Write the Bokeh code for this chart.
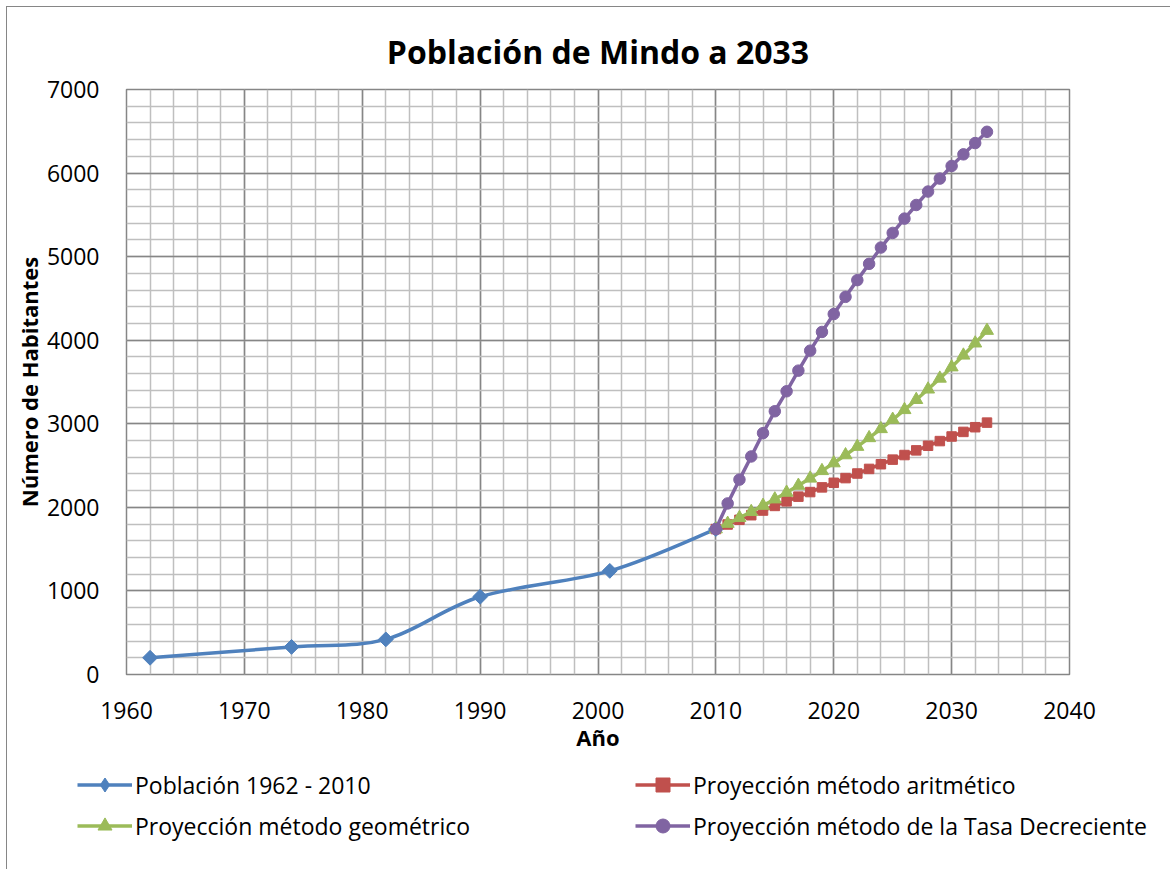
import numpy as np
from bokeh.plotting import figure
from bokeh.layouts import column
from bokeh.models import Range1d, SingleIntervalTicker, Legend, LegendItem
from bokeh.embed import file_html
from bokeh.resources import INLINE

# ---- data ----
hist_years = [1962, 1974, 1982, 1990, 2001, 2010]
hist_pop = [200, 330, 420, 930, 1240, 1740]

proj_years = [2010, 2011, 2012, 2013, 2014, 2015, 2016, 2017, 2018, 2019, 2020, 2021,
              2022, 2023, 2024, 2025, 2026, 2027, 2028, 2029, 2030, 2031, 2032, 2033]
arit = [1740, 1795, 1851, 1906, 1962, 2017, 2072, 2128, 2183, 2239, 2294, 2350,
        2405, 2460, 2516, 2571, 2626, 2682, 2737, 2793, 2848, 2903, 2959, 3014]
geom = [1740, 1806, 1875, 1947, 2021, 2098, 2178, 2261, 2347, 2437, 2530, 2626,
        2727, 2831, 2939, 3051, 3167, 3288, 3413, 3543, 3678, 3819, 3964, 4115]
tasa = [1740, 2047, 2332, 2609, 2888, 3150, 3389, 3636, 3875, 4099, 4313, 4519,
        4719, 4914, 5109, 5284, 5455, 5618, 5779, 5934, 6085, 6224, 6359, 6494]

labels = ["Población 1962 - 2010", "Proyección método aritmético",
          "Proyección método geométrico", "Proyección método de la Tasa Decreciente"]
title_text = "Población de Mindo a 2033"
x_title = "Año"
y_title = "Número de Habitantes"

BLUE, RED, GREEN, PURPLE = "#4F81BD", "#C0504D", "#9BBB59", "#8064A2"
FONT = "Open Sans"
LW = 3.5
W = 1163

# ---------------- main chart ----------------
p = figure(width=W, height=753, output_backend="svg", toolbar_location=None,
           x_range=Range1d(1960, 2040), y_range=Range1d(0, 7000),
           min_border_left=119, min_border_right=101, min_border_top=82,
           min_border_bottom=86, background_fill_color="white",
           border_fill_color="white")

p.title.text = title_text
p.title.align = "center"
p.title.text_font = FONT
p.title.text_font_size = "32px"
p.title.text_font_style = "bold"
p.title.text_color = "black"
p.title.standoff = 33

p.outline_line_color = "#868686"
p.outline_line_width = 1.5

p.xaxis.ticker = SingleIntervalTicker(interval=10, num_minor_ticks=5)
p.yaxis.ticker = SingleIntervalTicker(interval=1000, num_minor_ticks=5)

for ax in (p.xaxis, p.yaxis):
    ax.axis_line_color = None
    ax.major_tick_line_color = None
    ax.minor_tick_line_color = None
    ax.major_label_text_font = FONT
    ax.major_label_text_font_size = "23px"
    ax.major_label_text_color = "black"
    ax.axis_label_text_font = FONT
    ax.axis_label_text_font_size = "22px"
    ax.axis_label_text_font_style = "bold"
    ax.axis_label_text_color = "black"

p.xaxis.axis_label = x_title
p.yaxis.axis_label = y_title
p.xaxis.major_label_standoff = 21
p.xaxis.axis_label_standoff = 0
p.yaxis.major_label_standoff = 21
p.yaxis.axis_label_standoff = 0

for g in (p.xgrid, p.ygrid):
    g.grid_line_color = "#868686"
    g.grid_line_width = 1.5
    g.minor_grid_line_color = "#BFBFBF"
    g.minor_grid_line_width = 1.5

# smoothed historical line (Catmull-Rom style Bezier built from the data)
hx = np.array(hist_years, dtype=float)
hy = np.array(hist_pop, dtype=float)
n = len(hx)
prev_idx = np.array([max(i - 1, 0) for i in range(n - 1)])
next_idx = np.array([min(i + 2, n - 1) for i in range(n - 1)])
i0 = np.arange(n - 1)
i1 = i0 + 1
cx0 = hx[i0] + (hx[i1] - hx[prev_idx]) / 6.0
cy0 = hy[i0] + (hy[i1] - hy[prev_idx]) / 6.0
cx1 = hx[i1] - (hx[next_idx] - hx[i0]) / 6.0
cy1 = hy[i1] - (hy[next_idx] - hy[i0]) / 6.0

p.bezier(x0=hx[i0], y0=hy[i0], x1=hx[i1], y1=hy[i1],
         cx0=cx0, cy0=cy0, cx1=cx1, cy1=cy1, line_color=BLUE, line_width=LW)
p.scatter(hist_years, hist_pop, marker="square", angle=np.pi / 4,
          size=10.5, fill_color=BLUE, line_color=BLUE)

p.line(proj_years, arit, line_color=RED, line_width=LW)
p.scatter(proj_years, arit, marker="square", size=9.5, fill_color=RED, line_color=RED)

p.line(proj_years, geom, line_color=GREEN, line_width=LW)
p.scatter(proj_years, geom, marker="triangle", size=13, fill_color=GREEN, line_color=GREEN)

p.line(proj_years, tasa, line_color=PURPLE, line_width=LW)
p.scatter(proj_years, tasa, marker="circle", size=11.5, fill_color=PURPLE, line_color=PURPLE)

# ---------------- legend strip ----------------
# (series are re-plotted here far outside the strip's ranges, only so that the
#  legend can draw their line + marker samples)
q = figure(width=W, height=109, output_backend="svg", toolbar_location=None,
           x_range=Range1d(0, 1), y_range=Range1d(0, 1),
           min_border_left=0, min_border_right=0, min_border_top=0, min_border_bottom=0,
           background_fill_color="white", border_fill_color="white")
q.axis.visible = False
q.grid.visible = False
q.outline_line_color = None
for fig in (p, q):
    if "frame_align" in fig.properties():
        fig.frame_align = False

series = [(hist_years, hist_pop, BLUE, dict(marker="diamond")),
          (proj_years, arit, RED, dict(marker="square")),
          (proj_years, geom, GREEN, dict(marker="triangle")),
          (proj_years, tasa, PURPLE, dict(marker="circle"))]
entries = []
for (xs, ys, col, mk), lab in zip(series, labels):
    rl = q.line(xs, ys, line_color=col, line_width=LW)
    rs = q.scatter(xs, ys, fill_color=col, line_color=col, **mk)
    entries.append(LegendItem(label=lab, renderers=[rl, rs]))


def make_legend(items, loc):
    lg = Legend(items=items, location=loc, orientation="vertical",
                border_line_color=None, background_fill_alpha=0,
                padding=0, margin=0, spacing=6, glyph_width=55, glyph_height=35,
                label_standoff=3, label_height=35,
                label_text_font=FONT, label_text_font_size="23px",
                label_text_color="black")
    q.add_layout(lg, "center")


make_legend([entries[0], entries[2]], (70, 26))
make_legend([entries[1], entries[3]], (628, 26))

layout = column(p, q, spacing=0)
layout.styles = {"margin-left": "7px", "margin-top": "7px",
                 "outline": "1.5px solid #868686"}

open("out.html", "w").write(file_html(layout, INLINE))
